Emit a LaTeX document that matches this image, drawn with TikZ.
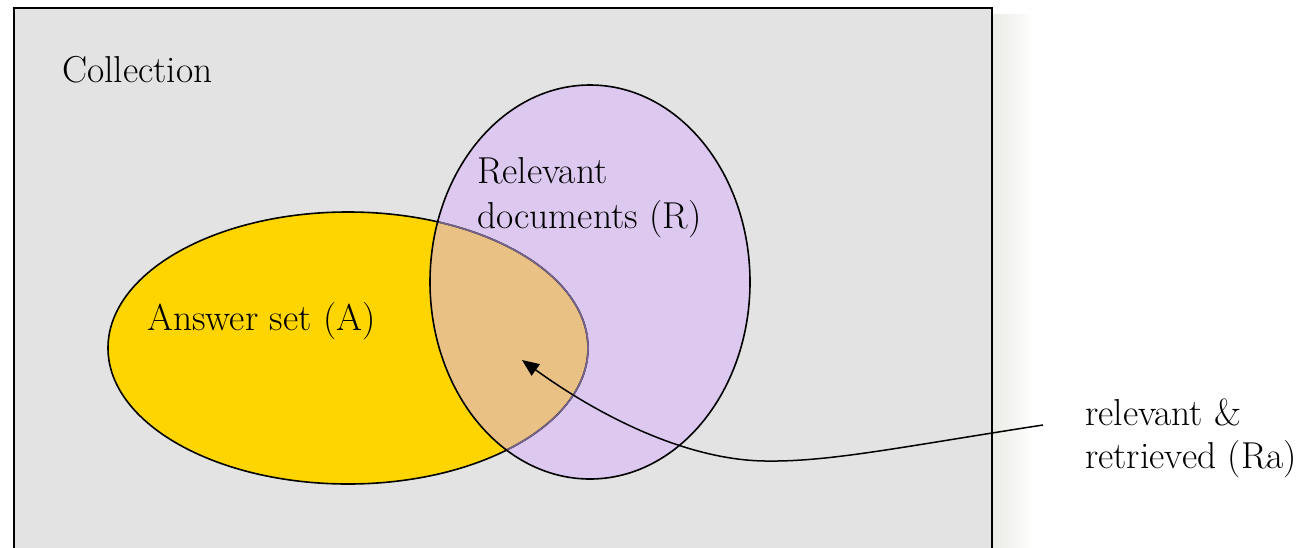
\documentclass[tikz,border=0pt]{standalone}
\usepackage{fontspec}
\usetikzlibrary{arrows.meta}
\definecolor{bggray}{RGB}{227,227,227}
\definecolor{ansyellow}{RGB}{255,213,0}
\definecolor{relpurple}{RGB}{221,200,240}
\definecolor{overlaptan}{RGB}{233,193,132}
\definecolor{dimedge}{RGB}{118,100,140}
\definecolor{shadowc}{RGB}{234,236,229}
\begin{document}
\begin{tikzpicture}[x=1pt,y=-1pt,
  lbl/.style={inner sep=0pt, anchor=base west, font=\fontsize{37.5}{44}\selectfont},
  edge/.style={line width=1.6pt, draw=black},
  pointer/.style={line width=1.5pt, -{Triangle[length=17pt,width=14pt]}}]
\clip (0,0) rectangle (1298,547);
\fill[white] (0,0) rectangle (1298,547);
% soft shadow of the collection box
\shade[left color=shadowc, right color=white] (993,14) rectangle (1034,560);
% collection
\fill[bggray] (14,8) rectangle (992,560);
% answer set
\fill[ansyellow] (348,348) ellipse [x radius=240, y radius=136];
% relevant set
\fill[relpurple] (590,282) ellipse [x radius=160, y radius=197];
% overlap
\begin{scope}
  \clip (590,282) ellipse [x radius=160, y radius=197];
  \fill[overlaptan] (348,348) ellipse [x radius=240, y radius=136];
\end{scope}
% answer set border
\draw[edge] (348,348) ellipse [x radius=240, y radius=136];
\begin{scope}
  \clip (590,282) ellipse [x radius=159, y radius=196];
  \draw[line width=1.6pt, dimedge] (348,348) ellipse [x radius=240, y radius=136];
\end{scope}
\draw[edge] (590,282) ellipse [x radius=160, y radius=197];
\draw[line width=2pt] (14,8) rectangle (992,560);
% labels
\node[lbl] (coll) at (62,82) {Collection};
\node[lbl] (rel1) at (477,183) {Relevant};
\node[lbl] (rel2) at (477,228) {documents (R)};
\node[lbl] (ans) at (147,330) {Answer set (A)};
\node[lbl] (ra1) at (1085,425) {relevant \&};
\node[lbl] (ra2) at (1085,468) {retrieved (Ra)};
% arrow
\coordinate (tail) at (1043,425);
\coordinate (tip) at (522,360);
\draw[pointer] (tail) .. controls (900,447) and (830,462) .. (765,461)
  .. controls (690,460) and (605,420) .. (tip);
\end{tikzpicture}
\end{document}
